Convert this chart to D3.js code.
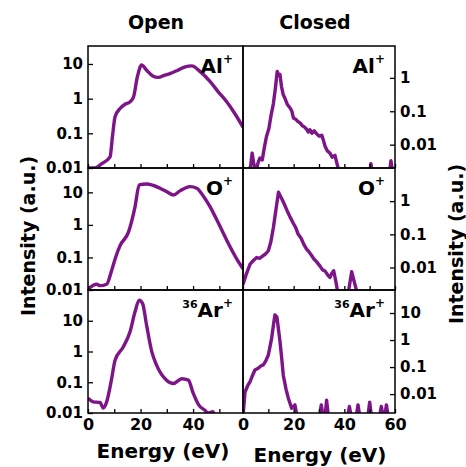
<!DOCTYPE html>
<html>
<head>
<meta charset="utf-8">
<script src="https://cdn.jsdelivr.net/npm/d3@7"></script>
<style>
  body { margin: 0; background: #fff; }
  text { font-family: "DejaVu Sans", sans-serif; font-weight: bold; fill: #000; }
</style>
</head>
<body>
<svg id="chart" width="466" height="467"></svg>
<script>
// Open (left column) spectra, energy in eV and intensity in a.u.
var alOpenE = [0, 2.7, 5, 8.4, 9.3, 10.3, 12.2, 14, 16, 17.3, 18.8, 20.4, 22.3, 24.5, 26.8, 29, 31.2, 34, 37, 39.5, 42.7, 46.5, 49.5, 52.8, 56, 59];
var alOpenI = [0.01, 0.01, 0.013, 0.021, 0.08, 0.3, 0.52, 0.68, 0.81, 1.1, 4.3, 9.3, 6.6, 4.6, 4.1, 4.7, 5.3, 6.5, 8.3, 8.8, 6, 3.1, 1.6, 0.81, 0.36, 0.15];

var oOpenE = [0, 3.3, 4.6, 7.1, 9, 10.5, 12.2, 15.4, 17.9, 19.5, 22.3, 27.4, 30, 32.5, 35, 38.9, 41.4, 44, 46.5, 49.5, 52.8, 56.6, 59];
var oOpenI = [0.0107, 0.015, 0.0136, 0.015, 0.04, 0.1, 0.23, 0.6, 3.6, 17, 18, 13.4, 10.5, 8.3, 11.1, 15, 13.4, 7.5, 3.6, 1.2, 0.34, 0.091, 0.045];

var arOpenE = [0, 2, 4.6, 5.8, 7.1, 9, 10.3, 13.4, 16, 17.9, 19.5, 20.8, 22.3, 24.3, 26.1, 29.9, 32.5, 35.7, 38.2, 39.9, 42.2, 44.6, 45.6, 47.6, 48];
var arOpenI = [0.03, 0.023, 0.022, 0.0145, 0.023, 0.13, 0.52, 1.4, 4.4, 19.5, 47, 36, 7.2, 0.97, 0.36, 0.117, 0.091, 0.13, 0.117, 0.048, 0.018, 0.012, 0.01, 0.011, 0.009];

// Closed (right column) spectra
var alClosedE = [0, 1.5, 3, 3.6, 4.3, 5.2, 6, 6.7, 7.6, 8.4, 9.3, 10.2, 11, 12, 12.8, 13.5, 14.1, 14.6, 15.2, 15.9, 16.6, 17.5, 18.6, 19.3, 19.9, 20.8, 21.6, 22.5, 23.4, 24.2, 25.1, 25.8, 26.4, 27.2, 28.1, 29.1, 30, 31.1, 31.8, 32.4, 33.3, 34.3, 35.2, 36.3, 37.4, 38.2, 49.8, 50.5, 51.2, 57.7, 58.4, 59.2, 60];
var alClosedI = [0.0012, 0.0015, 0.0022, 0.0056, 0.0026, 0.0016, 0.003, 0.004, 0.0035, 0.008, 0.018, 0.03, 0.07, 0.17, 0.5, 1.55, 1.2, 1.25, 0.55, 0.31, 0.24, 0.16, 0.125, 0.1, 0.063, 0.058, 0.05, 0.045, 0.037, 0.034, 0.029, 0.024, 0.028, 0.022, 0.026, 0.021, 0.018, 0.019, 0.013, 0.009, 0.0065, 0.0056, 0.0042, 0.0048, 0.0022, 0.0012, 0.0012, 0.0027, 0.0012, 0.0012, 0.0033, 0.0012, 0.0012];

var oClosedE = [0, 1.2, 2.8, 4, 5.4, 6.5, 8, 9, 10, 11, 12, 13, 14, 14.6, 15.3, 16.5, 17.5, 18.6, 19.8, 20.8, 21.8, 23, 24, 25.1, 26, 27.1, 28, 29, 30.4, 31.4, 32.4, 33.4, 34.3, 35, 35.8, 36.6, 37.4, 41.6, 42.9, 44, 45, 60];
var oClosedI = [0.0031, 0.006, 0.0127, 0.016, 0.02, 0.019, 0.023, 0.026, 0.032, 0.06, 0.16, 0.55, 1.87, 1.5, 1.18, 0.75, 0.5, 0.33, 0.22, 0.16, 0.1, 0.075, 0.05, 0.036, 0.03, 0.023, 0.018, 0.015, 0.011, 0.0085, 0.0078, 0.006, 0.005, 0.0065, 0.008, 0.004, 0.0018, 0.0018, 0.0075, 0.0035, 0.0018, 0.0018];

var arClosedE = [0, 0.8, 1.8, 2.8, 3.8, 4.7, 6, 7, 8, 9, 10, 11.3, 12, 12.6, 13.4, 14, 14.6, 15.3, 15.9, 17, 17.9, 19.2, 20.5, 21.3, 30.2, 30.9, 31.6, 32.4, 33, 33.7, 41.3, 42, 42.7, 44.7, 45.4, 46.1, 49.3, 50, 50.7, 53.9, 54.6, 55.3, 56, 56.6, 57.3];
var arClosedI = [0.0015, 0.012, 0.02, 0.029, 0.05, 0.078, 0.09, 0.11, 0.12, 0.17, 0.28, 1.15, 3.5, 8.5, 7, 2.5, 0.89, 0.2, 0.05, 0.015, 0.007, 0.003, 0.004, 0.0015, 0.0015, 0.004, 0.0015, 0.0015, 0.006, 0.0015, 0.0015, 0.0035, 0.0015, 0.0015, 0.004, 0.0015, 0.0015, 0.005, 0.0015, 0.0015, 0.0035, 0.0015, 0.0015, 0.004, 0.0015];

var yTicksLeft = [0.01, 0.1, 1, 10];
var yTicksRight = [[0.01, 0.1, 1], [0.01, 0.1, 1], [0.01, 0.1, 1, 10]];
var xTicks = [0, 10, 20, 30, 40, 50, 60];
var ionNames = [["", "Al"], ["", "O"], ["36", "Ar"]];

var svg = d3.select('#chart');
var color = '#7d1488';
var rowTop = [46, 168, 290];
var rowBottom = [168, 290, 413];
var colLeft = [88, 243];
var colRight = [243, 395];
var xMax = [59, 60];
var yDomains = [
  [[0.01, 33], [0.002, 9]],
  [[0.01, 56], [0.0021, 10]],
  [[0.01, 100], [0.002, 71]]
];
var series = [
  [[alOpenE, alOpenI], [alClosedE, alClosedI]],
  [[oOpenE, oOpenI], [oClosedE, oClosedI]],
  [[arOpenE, arOpenI], [arClosedE, arClosedI]]
];

function fmt(d) {
  return d >= 1 ? d3.format('d')(d) : String(d);
}

for (var r = 0; r < 3; r++) {
  for (var c = 0; c < 2; c++) {
    var x = d3.scaleLinear().domain([0, xMax[c]]).range([colLeft[c], colRight[c]]);
    var y = d3.scaleLog().domain(yDomains[r][c]).range([rowBottom[r], rowTop[r]]);
    var id = 'clip' + r + c;

    svg.append('clipPath').attr('id', id)
       .append('rect')
       .attr('x', colLeft[c]).attr('y', rowTop[r])
       .attr('width', colRight[c] - colLeft[c]).attr('height', rowBottom[r] - rowTop[r]);

    var pts = series[r][c][0].map(function(e, i) { return [e, series[r][c][1][i]]; });
    var line = d3.line()
                 .x(function(d) { return x(d[0]); })
                 .y(function(d) { return y(d[1]); })
                 .curve(c === 0 ? d3.curveMonotoneX : d3.curveLinear);

    svg.append('path')
       .datum(pts)
       .attr('clip-path', 'url(#' + id + ')')
       .attr('d', line)
       .attr('fill', 'none')
       .attr('stroke', color)
       .attr('stroke-width', 3.4)
       .attr('stroke-linejoin', 'round');

    // x axis, ticks inside
    var xAxis = d3.axisBottom(x)
                  .tickValues(xTicks.filter(function(t) { return t <= xMax[c]; }))
                  .tickSize(-4)
                  .tickPadding(6)
                  .tickFormat(function(d) { return (r === 2 && d % 20 === 0) ? d : ''; });
    var gx = svg.append('g')
       .attr('transform', 'translate(0,' + rowBottom[r] + ')')
       .call(xAxis);
    gx.select('.domain').remove();
    gx.selectAll('line').attr('stroke', '#000').attr('stroke-width', 1.3);
    gx.selectAll('text').style('font-size', '16px').attr('font-family', null);

    // y axis
    var yAxis = (c === 0 ? d3.axisLeft(y) : d3.axisRight(y))
                  .tickValues(c === 0 ? yTicksLeft : yTicksRight[r])
                  .tickSize(-5)
                  .tickPadding(5)
                  .tickFormat(fmt);
    var gy = svg.append('g')
       .attr('transform', 'translate(' + (c === 0 ? colLeft[0] : colRight[1]) + ',0)')
       .call(yAxis);
    gy.select('.domain').remove();
    gy.selectAll('line').attr('stroke', '#000').attr('stroke-width', 1.3);
    gy.selectAll('text').style('font-size', '15px').attr('font-family', null);

    svg.append('rect')
       .attr('x', colLeft[c]).attr('y', rowTop[r])
       .attr('width', colRight[c] - colLeft[c]).attr('height', rowBottom[r] - rowTop[r])
       .attr('fill', 'none').attr('stroke', '#000').attr('stroke-width', 1.5);

    // ion label in the top right corner
    var lab = svg.append('text')
       .attr('x', colRight[c] - 10).attr('y', rowTop[r] + 27)
       .attr('text-anchor', 'end')
       .style('font-size', '20px');
    if (ionNames[r][0]) {
      lab.append('tspan').text(ionNames[r][0]).style('font-size', '11px').attr('dy', -9);
      lab.append('tspan').text(ionNames[r][1]).attr('dy', 9);
    } else {
      lab.append('tspan').text(ionNames[r][1]);
    }
    lab.append('tspan').text('+').style('font-size', '12px').attr('dy', -10);
  }
}

// Column titles
svg.append('text').attr('x', 156).attr('y', 29).attr('text-anchor', 'middle').style('font-size', '19px').text('Open');
svg.append('text').attr('x', 315).attr('y', 29).attr('text-anchor', 'middle').style('font-size', '19px').text('Closed');

// Axis titles
svg.append('text').attr('x', 163).attr('y', 458).attr('text-anchor', 'middle').style('font-size', '20px').text('Energy (eV)');
svg.append('text').attr('x', 320).attr('y', 462).attr('text-anchor', 'middle').style('font-size', '20px').text('Energy (eV)');
svg.append('text').attr('transform', 'translate(35,236) rotate(-90)').attr('text-anchor', 'middle').style('font-size', '19px').text('Intensity (a.u.)');
svg.append('text').attr('transform', 'translate(463,244) rotate(-90)').attr('text-anchor', 'middle').style('font-size', '19px').text('Intensity (a.u.)');
</script>
</body>
</html>
